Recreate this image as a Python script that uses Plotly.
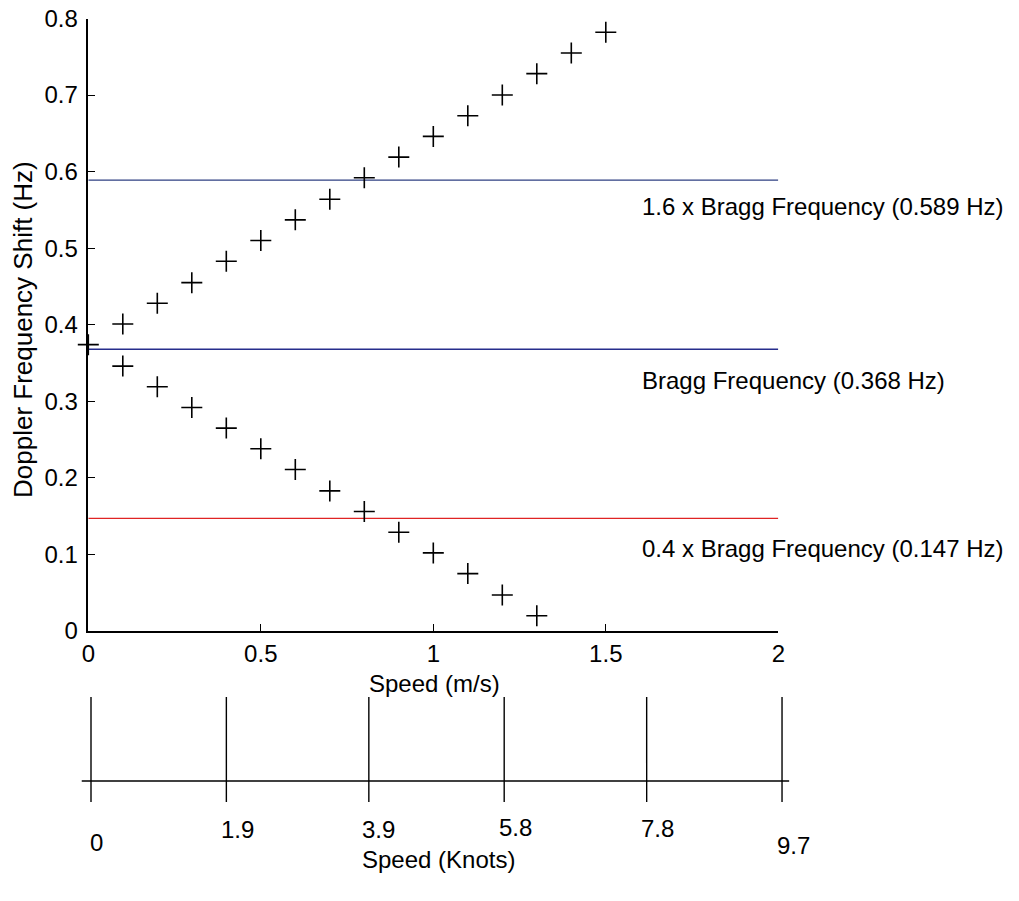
import plotly.graph_objects as go

# ---------------- data ----------------
speed_up = [0.0, 0.1, 0.2, 0.3, 0.4, 0.5, 0.6, 0.7, 0.8, 0.9, 1.0, 1.1, 1.2, 1.3, 1.4, 1.5]
shift_up = [0.374, 0.401, 0.428, 0.455, 0.483, 0.510, 0.537, 0.564, 0.592, 0.619,
            0.646, 0.673, 0.700, 0.728, 0.755, 0.782]
speed_down = [0.1, 0.2, 0.3, 0.4, 0.5, 0.6, 0.7, 0.8, 0.9, 1.0, 1.1, 1.2, 1.3]
shift_down = [0.346, 0.319, 0.292, 0.265, 0.238, 0.211, 0.183, 0.156, 0.129, 0.102,
              0.075, 0.047, 0.020]

ref_freqs = [0.589, 0.368, 0.147]
ref_labels = ["1.6 x Bragg Frequency (0.589 Hz)", "Bragg Frequency (0.368 Hz)",
              "0.4 x Bragg Frequency (0.147 Hz)"]
speed_range = [0, 2]

x_ticks = [0, 0.5, 1, 1.5, 2]
x_ticktext = ["0", "0.5", "1", "1.5", "2"]
y_ticks = [0, 0.1, 0.2, 0.3, 0.4, 0.5, 0.6, 0.7, 0.8]
y_ticktext = ["0", "0.1", "0.2", "0.3", "0.4", "0.5", "0.6", "0.7", "0.8"]

knots = [0, 1.9, 3.9, 5.8, 7.8, 9.7]
knot_labels = ["0", "1.9", "3.9", "5.8", "7.8", "9.7"]

# ---------------- styles ----------------
FONT = "Liberation Sans, Arial, sans-serif"
FS = 24
line_colors = ["#2e3f82", "#262d8c", "#e02424"]
label_yshift = [-26, -31, -30]
knot_label_y = [-0.738, -0.583, -0.583, -0.548, -0.571, -0.762]
knot_label_xshift = [5, 11, 10, 11, 11, 11]

fig = go.Figure()

for f, c in zip(ref_freqs, line_colors):
    fig.add_trace(go.Scatter(x=speed_range, y=[f, f], mode="lines",
                             line=dict(color=c, width=1.3), showlegend=False,
                             hoverinfo="skip"))

marker = dict(symbol="cross-thin-open", size=15, line=dict(color="black", width=1.6),
              color="black")
fig.add_trace(go.Scatter(x=speed_up, y=shift_up, mode="markers", marker=marker,
                         showlegend=False, cliponaxis=False))
fig.add_trace(go.Scatter(x=speed_down, y=shift_down, mode="markers", marker=marker,
                         showlegend=False, cliponaxis=False))

# ---- knots scale (drawn on secondary invisible axes) ----
kx, ky = [], []
for k in knots:
    kx += [k, k, None]
    ky += [1.0, -0.25, None]
fig.add_trace(go.Scatter(x=kx, y=ky, mode="lines", line=dict(color="black", width=1.4),
                         xaxis="x2", yaxis="y2", showlegend=False, hoverinfo="skip"))
fig.add_trace(go.Scatter(x=[knots[0] - 0.13, knots[-1] + 0.1], y=[0, 0], mode="lines",
                         line=dict(color="black", width=1.4), xaxis="x2", yaxis="y2",
                         showlegend=False, hoverinfo="skip"))

annotations = []
for f, lab, ys in zip(ref_freqs, ref_labels, label_yshift):
    annotations.append(dict(x=1.6, y=f, xref="x", yref="y", text=lab, showarrow=False,
                            xanchor="left", yanchor="middle", yshift=ys,
                            font=dict(family=FONT, size=FS, color="black")))
for k, lab, yv, xs in zip(knots, knot_labels, knot_label_y, knot_label_xshift):
    annotations.append(dict(x=k, y=yv, xref="x2", yref="y2", text=lab, showarrow=False,
                            xanchor="center", yanchor="middle", xshift=xs,
                            font=dict(family=FONT, size=FS, color="black")))
annotations.append(dict(x=434 / 1019, y=(901 - 683) / 901, xref="paper", yref="paper",
                        text="Speed (m/s)", showarrow=False, xanchor="center",
                        yanchor="middle", font=dict(family=FONT, size=FS, color="black")))
annotations.append(dict(x=438 / 1019, y=(901 - 859) / 901, xref="paper", yref="paper",
                        text="Speed (Knots)", showarrow=False, xanchor="center",
                        yanchor="middle", font=dict(family=FONT, size=FS, color="black")))
annotations.append(dict(x=23 / 1019, y=(901 - 330) / 901, xref="paper", yref="paper",
                        text="Doppler Frequency Shift (Hz)", showarrow=False,
                        textangle=-90, xanchor="center", yanchor="middle",
                        font=dict(family=FONT, size=26, color="black")))

axis_common = dict(showgrid=False, zeroline=False, showline=True, linecolor="black",
                   linewidth=1.5, ticks="inside", ticklen=7, tickcolor="black",
                   tickwidth=1.3, automargin=False,
                   tickfont=dict(family=FONT, size=FS, color="black"))

fig.update_layout(
    template="none",
    width=1019, height=901,
    margin=dict(l=0, r=0, t=0, b=0, pad=0),
    paper_bgcolor="white", plot_bgcolor="rgba(0,0,0,0)",
    xaxis=dict(domain=[88.3 / 1019, 778.3 / 1019], range=speed_range,
               tickvals=x_ticks, ticktext=x_ticktext, anchor="y", **axis_common),
    yaxis=dict(domain=[(901 - 631) / 901, (901 - 18.5) / 901], range=[0, 0.8],
               tickvals=y_ticks, ticktext=y_ticktext, anchor="x",
               ticklabelstandoff=4, **axis_common),
    xaxis2=dict(domain=[0, 1], range=[-91 / 71.24, (1019 - 91) / 71.24], visible=False,
                anchor="y2", automargin=False),
    yaxis2=dict(domain=[0, 0.25], range=[-120 / 84, (781 - 675.75) / 84], visible=False,
                anchor="x2", automargin=False),
    annotations=annotations,
    showlegend=False,
)

fig.write_html("out.html")
